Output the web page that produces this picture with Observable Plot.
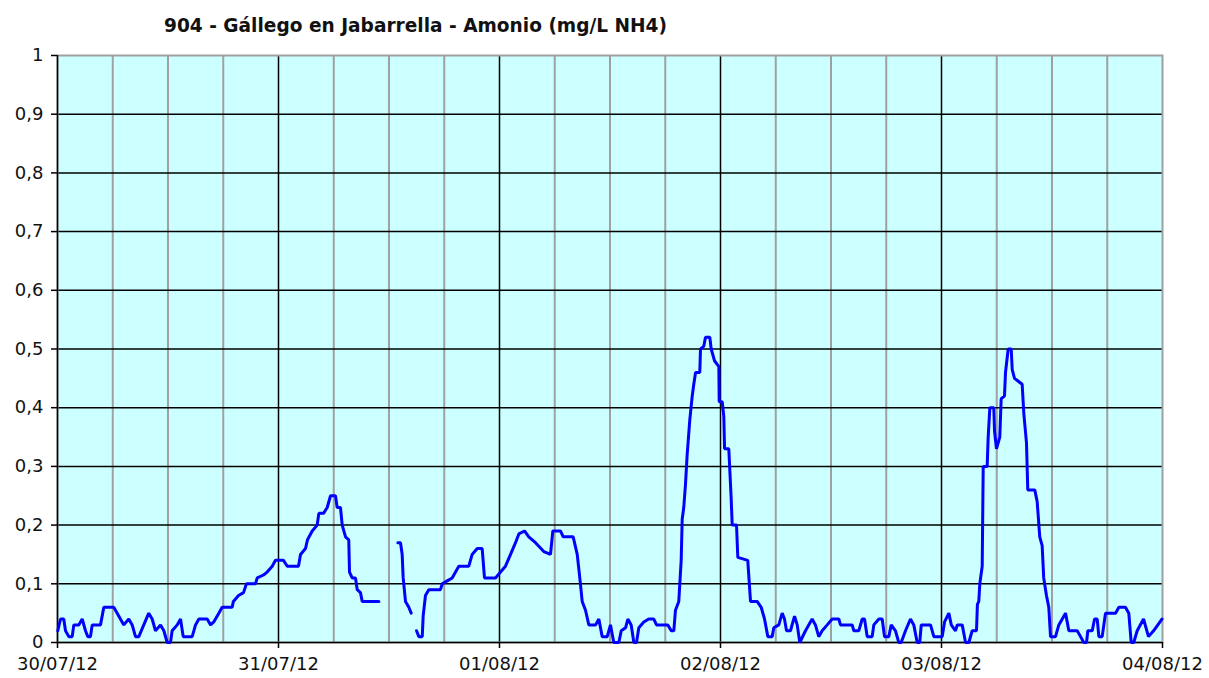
<!DOCTYPE html>
<html>
<head>
<meta charset="utf-8">
<script src="https://cdn.jsdelivr.net/npm/d3@7"></script>
<script src="https://cdn.jsdelivr.net/npm/@observablehq/plot@0.6"></script>
<style>
  html, body { margin: 0; padding: 0; background: #fff; }
  #wrap { position: relative; width: 1209px; height: 678px; }
  #title { position: absolute; left: 164px; top: 15px; font: bold 20px "DejaVu Sans", sans-serif; line-height: 1; white-space: nowrap; color: #111; transform-origin: 0 0; }
  svg { display: block; }
</style>
</head>
<body>
<div id="wrap"><div id="title">904 - Gállego en Jabarrella - Amonio (mg/L NH4)</div></div>
<script>
// Time axis: hours since 30/07/12 00:00; null marks a gap in the record
const startDate = "2012-07-30";
const endDate = "2012-08-04";
const hours = [
  0.03, 0.33, 0.68, 0.87, 1.23, 1.6, 1.77, 2.31, 2.68, 3.04, 3.29, 3.58, 3.77, 4.67, 5.03, 6.11, 6.48, 7.2, 7.74, 8.11,
  8.47, 8.83, 9.37, 9.91, 10.28, 10.64, 11.19, 11.55, 11.91, 12.27, 12.45, 13.0, 13.36, 13.65, 14.63, 14.99, 15.35, 16.26, 16.62, 16.97,
  17.52, 17.88, 18.97, 19.1, 19.66, 20.2, 20.52, 21.5, 21.69, 22.37, 22.77, 23.32, 23.67, 24.54, 24.95, 26.17, 26.39, 26.93, 27.15, 27.66,
  28.2, 28.38, 28.89, 29.29, 29.65, 30.19, 30.37, 30.73, 30.92, 31.28, 31.63, 31.71, 32.0, 32.36, 32.55, 32.9, 33.09, 34.9,
  35.9,
  36.96, 37.25, 37.43, 37.54, 37.79, 38.15, 38.41,
  38.7,
  38.99, 39.24, 39.61, 39.71, 39.96, 40.32, 41.59, 41.78, 42.32, 42.86, 43.58, 44.67, 45.03, 45.58, 46.12, 46.37, 47.57, 48.11, 48.65, 49.2,
  49.74, 50.1, 50.72, 51.18, 51.91, 52.81, 53.54, 53.79, 54.62, 54.92, 56.0, 56.44, 56.72, 56.98, 57.34, 57.7, 58.43, 58.79, 59.15, 59.7,
  60.05, 60.41, 60.96, 61.22, 61.69, 61.94, 62.3, 62.59, 62.88, 63.13, 63.67, 64.21, 64.76, 65.05, 66.28, 66.65, 66.93, 67.11, 67.47, 67.73,
  67.84, 68.01, 68.2, 68.38, 68.67, 68.93, 69.1, 69.29, 69.75, 69.83, 70.19, 70.37, 70.84, 70.99, 71.35, 71.82, 71.86, 72.19, 72.36, 72.44,
  72.9, 73.16, 73.27, 73.74, 73.88, 74.96, 75.26, 75.98, 76.42, 76.78, 77.14, 77.61, 77.79, 78.33, 78.7, 78.95, 79.17, 79.6, 80.04, 80.33,
  80.61, 81.23, 81.95, 82.31, 82.67, 83.04, 83.59, 84.13, 84.85, 85.03, 86.3, 86.48, 87.02, 87.39, 87.64, 87.93, 88.47, 88.65, 89.2, 89.56,
  89.81, 90.28, 90.54, 91.0, 91.36, 91.62, 92.09, 92.63, 92.99, 93.36, 93.64, 93.8, 94.81, 95.17, 96.08, 96.33, 96.8, 97.06, 97.52, 97.71,
  98.25, 98.61, 98.97, 99.33, 99.8, 99.9, 100.05, 100.16, 100.42, 100.53, 100.96, 101.07, 101.25, 101.68, 101.76, 101.97, 102.33, 102.48, 102.84, 102.95,
  103.24, 103.57, 103.68, 103.93, 104.76, 104.94, 105.23, 105.37, 106.13, 106.39, 106.67, 106.93, 107.1, 107.4, 107.65, 107.84, 108.38, 108.74, 109.47, 109.83,
  110.74, 111.1, 111.45, 111.75, 111.89, 112.37, 112.62, 112.91, 113.09, 113.45, 113.81, 114.9, 115.26, 115.98, 116.34, 116.6, 116.88, 117.25, 117.94, 118.48,
  119.03, 119.94
];
const ammonium = [
  0.02, 0.04, 0.04, 0.02, 0.01, 0.01, 0.03, 0.03, 0.04, 0.02, 0.01, 0.01, 0.03, 0.03, 0.06, 0.06, 0.05, 0.03, 0.04, 0.03,
  0.01, 0.01, 0.03, 0.05, 0.04, 0.02, 0.03, 0.02, 0, 0, 0.02, 0.03, 0.04, 0.01, 0.01, 0.03, 0.04, 0.04, 0.03, 0.035,
  0.05, 0.06, 0.06, 0.07, 0.08, 0.085, 0.10, 0.10, 0.11, 0.115, 0.12, 0.13, 0.14, 0.14, 0.13, 0.13, 0.15, 0.16, 0.175, 0.19,
  0.20, 0.22, 0.22, 0.23, 0.25, 0.25, 0.23, 0.23, 0.20, 0.18, 0.175, 0.12, 0.11, 0.11, 0.09, 0.085, 0.07, 0.07,
  null,
  0.17, 0.17, 0.15, 0.11, 0.07, 0.06, 0.05,
  null,
  0.02, 0.01, 0.01, 0.045, 0.08, 0.09, 0.09, 0.10, 0.105, 0.11, 0.13, 0.13, 0.15, 0.16, 0.16, 0.11, 0.11, 0.12, 0.13, 0.15,
  0.17, 0.185, 0.19, 0.18, 0.17, 0.155, 0.15, 0.19, 0.19, 0.18, 0.18, 0.15, 0.11, 0.07, 0.055, 0.03, 0.03, 0.04, 0.01, 0.01,
  0.03, 0, 0, 0.02, 0.025, 0.04, 0.03, 0, 0, 0.025, 0.035, 0.04, 0.04, 0.03, 0.03, 0.02, 0.02, 0.055, 0.07, 0.14,
  0.21, 0.23, 0.27, 0.32, 0.38, 0.42, 0.44, 0.46, 0.46, 0.50, 0.505, 0.52, 0.52, 0.50, 0.48, 0.47, 0.41, 0.41, 0.385, 0.33,
  0.33, 0.245, 0.20, 0.20, 0.145, 0.14, 0.07, 0.07, 0.06, 0.04, 0.01, 0.01, 0.025, 0.03, 0.05, 0.04, 0.02, 0.02, 0.045, 0.03,
  0, 0.02, 0.04, 0.03, 0.01, 0.02, 0.03, 0.04, 0.04, 0.03, 0.03, 0.02, 0.02, 0.04, 0.04, 0.01, 0.01, 0.03, 0.04, 0.04,
  0.01, 0.01, 0.03, 0.02, 0, 0, 0.02, 0.04, 0.03, 0, 0, 0.03, 0.03, 0.01, 0.01, 0.035, 0.05, 0.03, 0.02, 0.03,
  0.03, 0, 0, 0.02, 0.02, 0.065, 0.07, 0.10, 0.13, 0.30, 0.30, 0.35, 0.40, 0.40, 0.36, 0.33, 0.35, 0.415, 0.42, 0.46,
  0.50, 0.50, 0.465, 0.45, 0.44, 0.39, 0.34, 0.26, 0.26, 0.24, 0.18, 0.165, 0.11, 0.08, 0.06, 0.01, 0.01, 0.03, 0.05, 0.02,
  0.02, 0.01, 0, 0, 0.02, 0.02, 0.04, 0.04, 0.01, 0.01, 0.05, 0.05, 0.06, 0.06, 0.05, 0, 0, 0.02, 0.04, 0.01,
  0.02, 0.04
];
const yTickValues = [0, 0.1, 0.2, 0.3, 0.4, 0.5, 0.6, 0.7, 0.8, 0.9, 1];
const titleText = "904 - Gállego en Jabarrella - Amonio (mg/L NH4)";

const t0 = new Date(startDate + "T00:00:00Z");
const t1 = new Date(endDate + "T00:00:00Z");
const data = hours.map((h, i) => ({ date: new Date(+t0 + h * 3600e3), value: ammonium[i] }));
const days = d3.utcDay.range(t0, d3.utcDay.offset(t1, 1));
const quarters = d3.utcHour.every(6).range(t0, t1).filter(d => d.getUTCHours() !== 0);
const fmtY = d => d3.format(".1~f")(d).replace(".", ",");
const fmtX = d3.utcFormat("%d/%m/%y");

const chart = Plot.plot({
  width: 1209,
  height: 678,
  marginLeft: 57,
  marginRight: 47,
  marginTop: 55,
  marginBottom: 36,
  style: { fontFamily: "DejaVu Sans, sans-serif", fontSize: "18px", color: "#111", background: "#fff", overflow: "visible" },
  x: { type: "utc", domain: [t0, t1] },
  y: { domain: [0, 1] },
  marks: [
    Plot.frame({ fill: "#ccffff", stroke: null }),
    Plot.ruleX(quarters, { stroke: "#a0a0a0", strokeWidth: 2 }),
    Plot.ruleX(days.slice(1, -1), { stroke: "#000", strokeWidth: 1.5 }),
    Plot.ruleY(yTickValues.slice(1, -1), { stroke: "#000", strokeWidth: 1.5 }),
    Plot.frame({ stroke: "#a0a0a0", strokeWidth: 2 }),
    Plot.ruleX([t0], { stroke: "#000", strokeWidth: 1.5 }),
    Plot.ruleY([0], { stroke: "#000", strokeWidth: 1.5 }),
    Plot.line(data, { x: "date", y: "value", stroke: "#0000ff", strokeWidth: 3, strokeLinejoin: "miter" }),
    Plot.axisY({ ticks: yTickValues, tickFormat: fmtY, tickSize: 6, tickPadding: 8, label: null, stroke: "#000", strokeWidth: 1.5 }),
    Plot.axisX({ ticks: days, tickFormat: fmtX, tickSize: 6, tickPadding: 9, label: null, stroke: "#000", strokeWidth: 1.5 })
  ]
});
document.getElementById("wrap").appendChild(chart);

const title = document.getElementById("title");
title.textContent = titleText;
const w = title.getBoundingClientRect().width;
title.style.transform = `scaleX(${503 / w})`;
</script>
</body>
</html>
